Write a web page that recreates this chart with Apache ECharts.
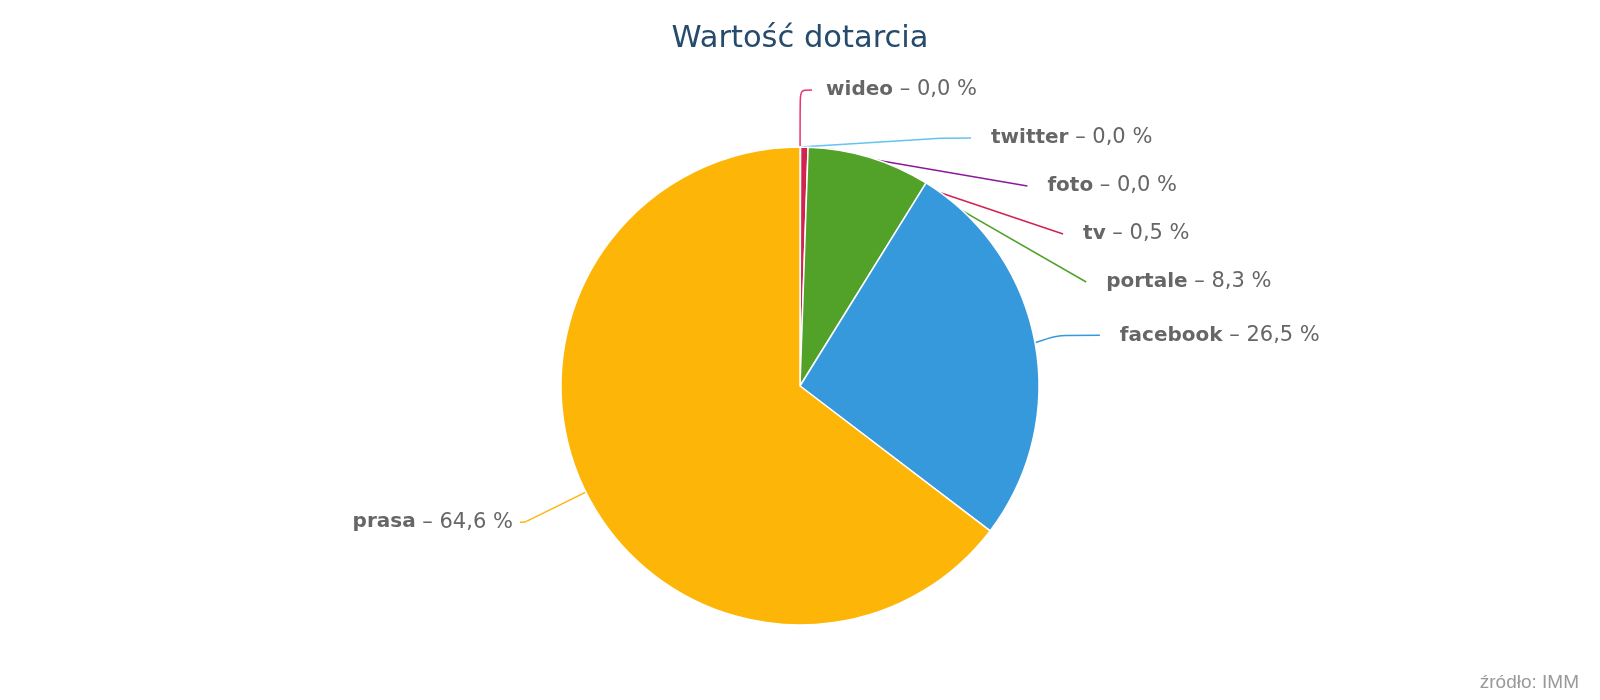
<!DOCTYPE html>
<html>
<head>
<meta charset="utf-8">
<script src="https://cdn.jsdelivr.net/npm/echarts@6/dist/echarts.min.js"></script>
<style>
html,body{margin:0;padding:0;background:#fff;}
#chart{width:1600px;height:700px;}
</style>
</head>
<body>
<div id="chart"></div>
<script>
const titleText = 'Wartość dotarcia';
const sourceText = 'źródło: IMM';
const categories = ['wideo', 'twitter', 'foto', 'tv', 'portale', 'facebook', 'prasa'];
const values = [0.01, 0.01, 0.02, 0.5, 8.3, 26.5, 64.6];
const colors = ['#e8336b', '#64c3f0', '#8b1a9b', '#d12350', '#52a22a', '#3699db', '#fdb507'];

const fmt = v => v.toFixed(1).replace('.', ',');

// per-slice label/connector tweaks (style only)
const labelTweaks = {
  wideo: { label: { distanceToLabelLine: 14 }, labelLine: { length2: 12 } },
  facebook: { labelLine: { length: 41, length2: 44 } },
  prasa: { label: { distanceToLabelLine: 7 }, labelLine: { length: 68, length2: 5 } }
};

const chart = echarts.init(document.getElementById('chart'));
chart.setOption({
  animation: false,
  backgroundColor: '#ffffff',
  title: [
    {
      text: titleText,
      left: 'center',
      top: 19,
      textStyle: { fontFamily: 'DejaVu Sans', fontSize: 30.5, fontWeight: 'normal', color: '#274b6d' }
    },
    {
      text: sourceText,
      right: 16,
      bottom: 3,
      textStyle: { fontFamily: 'Liberation Sans', fontSize: 19, fontWeight: 'normal', color: '#999999' }
    }
  ],
  series: [{
    type: 'pie',
    center: [800, 386],
    radius: 239,
    startAngle: 90,
    clockwise: true,
    avoidLabelOverlap: true,
    itemStyle: { borderColor: '#ffffff', borderWidth: 1.5 },
    label: {
      show: true,
      position: 'outside',
      alignTo: 'none',
      distanceToLabelLine: 20,
      fontFamily: 'DejaVu Sans',
      fontSize: 21,
      lineHeight: 46,
      color: '#666666',
      formatter: p => '{n|' + p.name + '} – ' + fmt(p.value) + ' %',
      rich: {
        n: { fontFamily: 'DejaVu Sans', fontSize: 20, fontWeight: 'bold', color: '#666666', lineHeight: 46 }
      }
    },
    labelLine: {
      show: true,
      length: 57,
      length2: 29,
      smooth: 0.3,
      lineStyle: { width: 1.5 }
    },
    emphasis: { disabled: true },
    data: categories.map((c, i) => Object.assign({
      name: c,
      value: values[i],
      itemStyle: { color: colors[i] }
    }, labelTweaks[c] || {}))
  }]
});
</script>
</body>
</html>
